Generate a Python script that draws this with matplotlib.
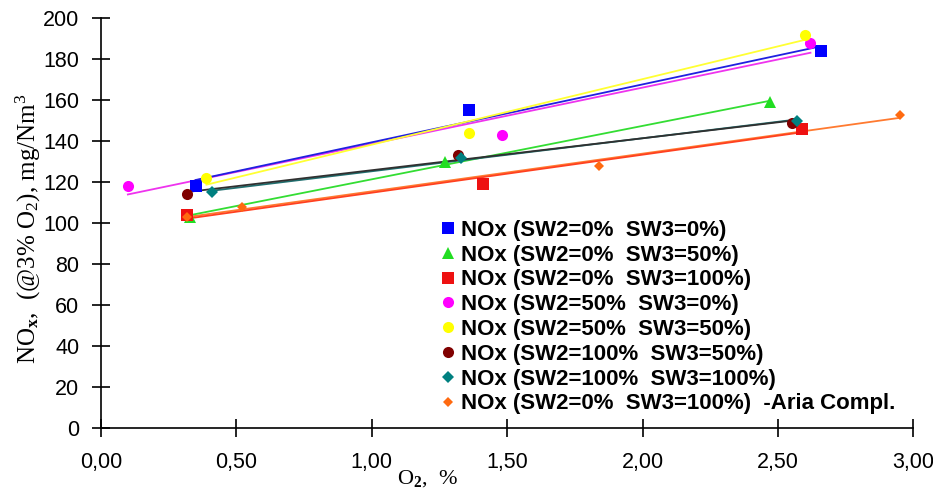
import numpy as np
import matplotlib.pyplot as plt
from matplotlib.ticker import FuncFormatter

# Data (O2 %, NOx mg/Nm3)
labels = [
    "NOx (SW2=0%  SW3=0%)",
    "NOx (SW2=0%  SW3=50%)",
    "NOx (SW2=0%  SW3=100%)",
    "NOx (SW2=50%  SW3=0%)",
    "NOx (SW2=50%  SW3=50%)",
    "NOx (SW2=100%  SW3=50%)",
    "NOx (SW2=100%  SW3=100%)",
    "NOx (SW2=0%  SW3=100%)  -Aria Compl.",
]

o2_sw2_0_sw3_0 = [0.35, 1.36, 2.66]
nox_sw2_0_sw3_0 = [118, 155, 184]

o2_sw2_0_sw3_50 = [0.33, 1.27, 2.47]
nox_sw2_0_sw3_50 = [103, 130, 159]

o2_sw2_0_sw3_100 = [0.32, 1.41, 2.59]
nox_sw2_0_sw3_100 = [104, 119, 146]

o2_sw2_50_sw3_0 = [0.10, 1.48, 2.62]
nox_sw2_50_sw3_0 = [118, 143, 188]

o2_sw2_50_sw3_50 = [0.39, 1.36, 2.60]
nox_sw2_50_sw3_50 = [122, 144, 192]

o2_sw2_100_sw3_50 = [0.32, 1.32, 2.55]
nox_sw2_100_sw3_50 = [114, 133, 149]

o2_sw2_100_sw3_100 = [0.41, 1.33, 2.57]
nox_sw2_100_sw3_100 = [115, 132, 150]

o2_aria = [0.32, 0.52, 1.84, 2.95]
nox_aria = [103, 108, 128, 153]

xs = [o2_sw2_0_sw3_0, o2_sw2_0_sw3_50, o2_sw2_0_sw3_100, o2_sw2_50_sw3_0,
      o2_sw2_50_sw3_50, o2_sw2_100_sw3_50, o2_sw2_100_sw3_100, o2_aria]
ys = [nox_sw2_0_sw3_0, nox_sw2_0_sw3_50, nox_sw2_0_sw3_100, nox_sw2_50_sw3_0,
      nox_sw2_50_sw3_50, nox_sw2_100_sw3_50, nox_sw2_100_sw3_100, nox_aria]

marker_colors = ['#0000ff', '#22dd22', '#ee1111', '#ff00ff', '#ffff00', '#800000', '#008080', '#ff6a10']
line_colors = ['#2020e0', '#33dd33', '#ff4020', '#ee33ee', '#ffff33', '#303030', '#207070', '#ff7a30']
markers = ['s', '^', 's', 'o', 'o', 'o', 'D', 'D']
sizes = [8, 8, 8, 8, 8, 8, 6, 5]

plt.rcParams['font.family'] = ['Liberation Sans', 'DejaVu Sans']
plt.rcParams['mathtext.fontset'] = 'custom'
plt.rcParams['mathtext.rm'] = 'Liberation Serif'
plt.rcParams['mathtext.it'] = 'Liberation Serif:italic'
plt.rcParams['mathtext.bf'] = 'Liberation Serif:bold'

fig = plt.figure(figsize=(9.33, 4.92), dpi=100)
ax = fig.add_axes([0.108, 0.130, 0.871, 0.833])

# Linear trendlines (Excel style) over the data range of each series
order = [7, 2, 1, 6, 5, 3, 0, 4]
for i in order:
    x = np.array(xs[i])
    y = np.array(ys[i])
    k, b = np.polyfit(x, y, 1)
    xl = np.array([x.min(), x.max()])
    ax.plot(xl, k * xl + b, color=line_colors[i], lw=1.3, zorder=2)

for i in range(len(labels)):
    ax.plot(xs[i], ys[i], linestyle='none', marker=markers[i], color=marker_colors[i],
            markersize=sizes[i], markeredgewidth=0, label=labels[i], zorder=3)

ax.set_xlim(0, 3)
ax.set_ylim(0, 200)
ax.set_xticks(np.arange(0, 3.01, 0.5))
ax.set_yticks(np.arange(0, 201, 20))
ax.xaxis.set_major_formatter(FuncFormatter(lambda v, p: f"{v:.2f}".replace('.', ',')))
for s in ['top', 'right']:
    ax.spines[s].set_visible(False)
for s in ['left', 'bottom']:
    ax.spines[s].set_linewidth(1.2)
ax.tick_params(direction='inout', length=13, width=1.2, labelsize=15.5)
ax.tick_params(axis='x', pad=11)
ax.tick_params(axis='y', pad=9)

fig.text(0.030, 0.535, r"NO$_\mathbf{x}$,  (@3% O$_2$), mg/Nm$^3$", rotation=90,
         family='Liberation Serif', fontsize=18, ha='center', va='center')
fig.text(0.458, 0.028, r"O$_\mathbf{2}$,  %", family='Liberation Serif', fontsize=16,
         ha='center', va='center')

leg = ax.legend(loc='upper left', bbox_to_anchor=(0.474, 0.553), bbox_transform=fig.transFigure,
                frameon=False, fontsize=16, handlelength=0.55, handletextpad=0.3,
                labelspacing=0.17, borderaxespad=0, borderpad=0)
for t in leg.get_texts():
    t.set_fontweight('bold')

fig.savefig("out.png", dpi=100)
